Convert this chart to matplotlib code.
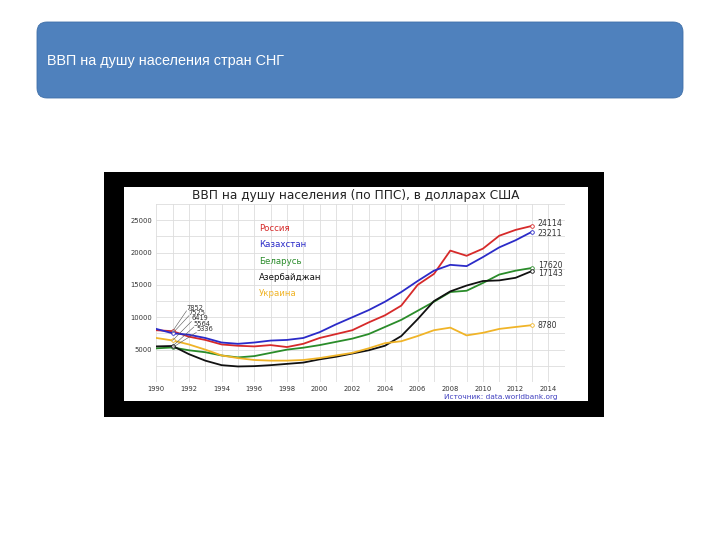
import matplotlib
matplotlib.use("Agg")
import matplotlib.pyplot as plt
from matplotlib import font_manager
from matplotlib.patches import FancyBboxPatch, Rectangle
import numpy as np

years = list(range(1990, 2014))

russia = [8000, 7852, 7000, 6500, 5800, 5600, 5500, 5700, 5400, 5900, 6800, 7400,
          8000, 9200, 10300, 11800, 15000, 16700, 20300, 19500, 20600, 22600, 23500, 24114]
kazakhstan = [8200, 7525, 7300, 6800, 6100, 5900, 6100, 6400, 6500, 6800, 7700, 8900,
              10000, 11100, 12400, 13900, 15600, 17200, 18100, 17900, 19300, 20800, 21900, 23211]
belarus = [5200, 5336, 4900, 4600, 4100, 3800, 4000, 4500, 5000, 5300, 5700, 6200,
           6700, 7400, 8500, 9600, 11000, 12400, 13900, 14100, 15300, 16600, 17200, 17620]
azerbaijan = [5500, 5564, 4300, 3300, 2600, 2400, 2450, 2600, 2800, 3000, 3500, 3900,
              4400, 4900, 5600, 7100, 9700, 12500, 14000, 14900, 15600, 15700, 16100, 17143]
ukraine = [6800, 6419, 5800, 5000, 4100, 3700, 3400, 3300, 3300, 3400, 3700, 4100,
           4500, 5200, 6000, 6300, 7100, 8000, 8400, 7200, 7600, 8200, 8500, 8780]

names = ["Россия", "Казахстан", "Беларусь", "Азербайджан", "Украина"]
series = [russia, kazakhstan, belarus, azerbaijan, ukraine]
colors = ["#d62a2a", "#2b2bc8", "#2a8c2a", "#111111", "#f0b428"]

slide_title = "ВВП на душу населения стран СНГ"
chart_title = "ВВП на душу населения (по ППС), в долларах США"
source = "Источник: data.worldbank.org"

# narrow font for the slide header if there is one
installed = {f.name for f in font_manager.fontManager.ttflist}
if "Liberation Sans Narrow" in installed:
    head_family, head_size = "Liberation Sans Narrow", 12
else:
    head_family, head_size = "Liberation Sans", 10.4

fig = plt.figure(figsize=(7.2, 5.4), dpi=100)
fig.patch.set_facecolor("white")

# background layer in pixel coordinates
bg = fig.add_axes([0, 0, 1, 1])
bg.set_xlim(0, 720)
bg.set_ylim(540, 0)
bg.axis("off")

bg.add_patch(FancyBboxPatch((37, 22), 646, 76, boxstyle="round,pad=0,rounding_size=10",
                            facecolor="#4f81bd", edgecolor="#3f6fa8", linewidth=0.6))
bg.text(47, 61, slide_title, color="white", fontsize=head_size, va="center", ha="left",
        family=[head_family, "DejaVu Sans"])

bg.add_patch(Rectangle((104, 172), 500, 245, facecolor="black", edgecolor="none"))
bg.add_patch(Rectangle((124, 187), 464, 214, facecolor="white", edgecolor="none"))
bg.text(356, 196, chart_title, fontsize=8.7, color="#222222", ha="center", va="center")
bg.text(558, 397, source, fontsize=5.3, color="#4040c0", ha="right", va="center")

# chart
ax = fig.add_axes([156.3 / 720, 1 - 382 / 540, 408.3 / 720, 178 / 540])
ax.patch.set_alpha(0)
ax.set_xlim(1990, 2015)
ax.set_ylim(0, 27500)
ax.set_xticks(range(1990, 2015, 2))
ax.set_xticks(range(1990, 2016), minor=True)
ax.set_yticks([5000, 10000, 15000, 20000, 25000])
ax.set_yticks(np.arange(0, 27501, 2500), minor=True)
ax.grid(True, which="both", color="#dddddd", linewidth=0.6)
ax.set_axisbelow(True)
ax.tick_params(which="both", length=0, labelsize=4.9, colors="#333333", pad=3)
for s in ax.spines.values():
    s.set_visible(False)

for name, vals, c in zip(names, series, colors):
    ax.plot(years, vals, color=c, linewidth=1.3)
    ax.plot([years[1], years[-1]], [vals[1], vals[-1]], linestyle="none", marker="o",
            markersize=2.6, markerfacecolor="white", markeredgecolor=c, markeredgewidth=0.6)

# end labels
end_offsets = {"Россия": 300, "Казахстан": -200, "Беларусь": 350, "Азербайджан": -350}
for name, vals in zip(names, series):
    ax.text(years[-1] + 0.35, vals[-1] + end_offsets.get(name, 0), str(vals[-1]),
            fontsize=5.6, color="#333333", va="center", ha="left")

# 1991 labels
start_vals = sorted([s[1] for s in series], reverse=True)
label_pos = [(1991.85, 11000), (1992.0, 10250), (1992.15, 9350), (1992.3, 8500), (1992.45, 7650)]
for v, (lx, ly) in zip(start_vals, label_pos):
    ax.plot([1991, lx], [v, ly], color="#555555", linewidth=0.4)
    ax.text(lx, ly, str(v), fontsize=4.8, color="#333333", va="bottom", ha="left")

# colored legend text, drawn above the chart
for i, (name, c) in enumerate(zip(names, colors)):
    fig.text(259 / 720, 1 - (228.7 + i * 16.25) / 540, name, color=c, fontsize=6.2,
             va="center", ha="left")

fig.savefig("out.png", dpi=100)
